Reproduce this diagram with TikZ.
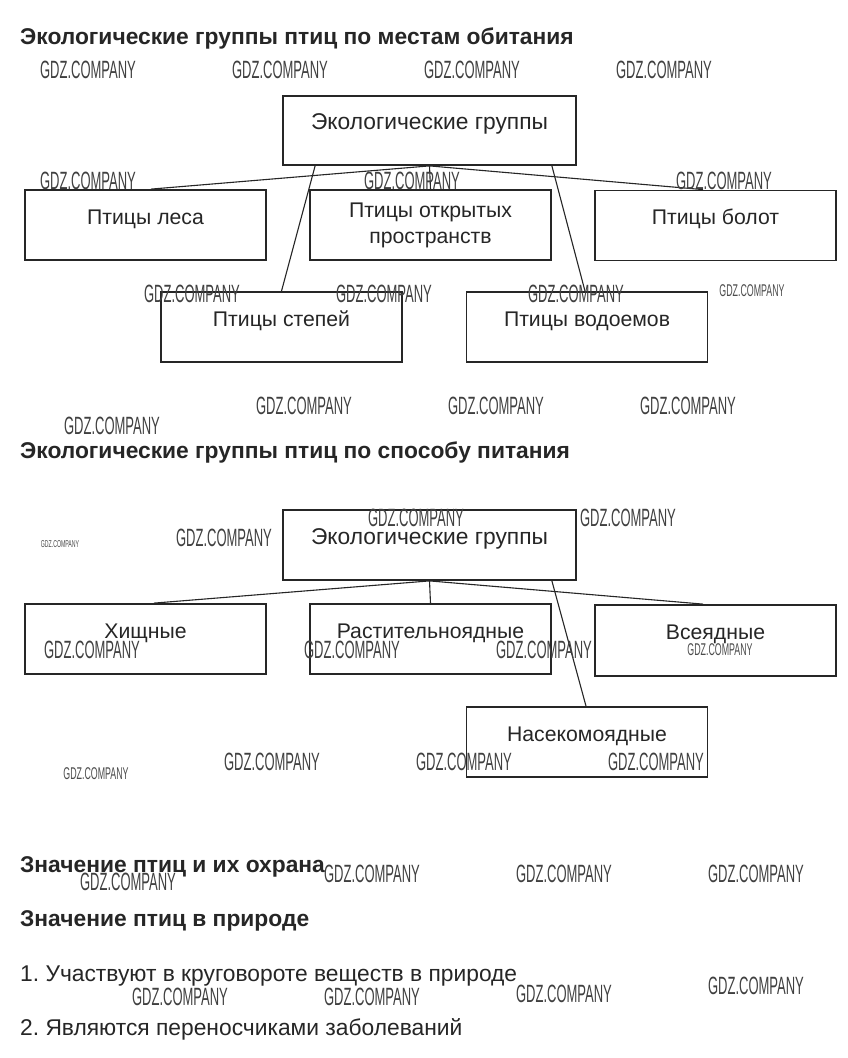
\documentclass[tikz,border=0pt]{standalone}
\usepackage{fontspec}
\setmainfont{Liberation Sans}
\frenchspacing
\newcommand\wmtext{\scalebox{0.52}[1]{GDZ.COMPANY}}
\tikzset{
  heading/.style={anchor=base west, inner sep=0, font=\bfseries\fontsize{22.8}{26}\selectfont, text=black!85},
  bodytext/.style={anchor=base west, inner sep=0, font=\fontsize{22.8}{26}\selectfont, text=black!85},
  box/.style={draw=black!85, line width=1.8pt, minimum width=241pt, minimum height=70pt, inner sep=0,
    font=\fontsize{21.2}{26}\selectfont, text=black!85, text height=16pt, text depth=18pt},
  topbox/.style={box, minimum width=293pt, minimum height=69pt, font=\fontsize{22.8}{26}\selectfont,
    text height=17pt, text depth=19pt},
  twoline/.style={box, align=center, text height=, text depth=},
  link/.style={draw=black!85, line width=1.1pt},
  wm/.style={inner sep=0, font=\fontsize{25}{25}\selectfont, text=black!75},
  wmsmall/.style={inner sep=0, font=\fontsize{17}{17}\selectfont, text=black!70},
  wmtiny/.style={inner sep=0, font=\fontsize{10}{10}\selectfont, text=black!70},
}
\begin{document}
\begin{tikzpicture}[x=1pt, y=-1pt]
\useasboundingbox[fill=white] (0,0) rectangle (848,1058);

% ---------- Section 1 ----------
\node[heading] (h1) at (20,44) {Экологические группы птиц по местам обитания};
\node[topbox] (t1) at (429.5,130.5) {Экологические группы};
\node[box] (les) at (145.5,225) {Птицы леса};
\node[twoline] (otk) at (430.5,225) {Птицы открытых\\пространств};
\node[box] (bol) at (715.5,225.5) {Птицы болот};
\node[box] (step) at (281.5,327) {Птицы степей};
\node[box] (vod) at (587,327) {Птицы водоемов};

\draw[link] (t1.south) -- ([xshift=5.5pt]les.north);
\draw[link] (t1.south) -- (otk.north);
\draw[link] (t1.south) -- ([xshift=-12.5pt]bol.north);
\draw[link] ([xshift=33pt]t1.south west) -- (step.north);
\draw[link] ([xshift=-25pt]t1.south east) -- ([xshift=-2pt]vod.north);

% ---------- Section 2 ----------
\node[heading] (h2) at (20,458) {Экологические группы птиц по способу питания};
\node[topbox, minimum height=70pt] (t2) at (429.5,545) {Экологические группы};
\node[box] (hish) at (145.5,639) {Хищные};
\node[box] (rast) at (430.5,639) {Растительноядные};
\node[box, minimum height=71pt] (vse) at (715.5,640.5) {Всеядные};
\node[box] (nas) at (587,742) {Насекомоядные};

\draw[link] (t2.south) -- ([xshift=8.5pt]hish.north);
\draw[link] (t2.south) -- (rast.north);
\draw[link] (t2.south) -- ([xshift=-12.5pt]vse.north);
\draw[link] ([xshift=-25pt]t2.south east) -- ([xshift=-1pt]nas.north);

% ---------- Section 3 ----------
\node[heading] (h3) at (20,872) {Значение птиц и их охрана};
\node[heading] (h4) at (20,926) {Значение птиц в природе};
\node[bodytext] (p1) at (20,981) {1. Участвуют в круговороте веществ в природе};
\node[bodytext] (p2) at (20,1035) {2. Являются переносчиками заболеваний};

% ---------- Watermarks ----------
\foreach \x/\y [count=\i] in {88/70, 280/70, 472/70, 664/70,
  88/181, 412/181, 724/181,
  192/294, 384/294, 576/294,
  304/406, 496/406, 688/406, 112/426,
  416/518, 628/518, 224/538,
  92/650, 352/650, 544/650,
  272/762, 464/762, 656/762,
  372/874, 564/874, 756/874, 128/882,
  756/986, 564/994, 180/997, 372/997}
  \node[wm] (wm\i) at (\x,\y) {\wmtext};
\node[wmsmall] (wms1) at (752,291) {\wmtext};
\node[wmsmall] (wms2) at (720,650) {\wmtext};
\node[wmsmall] (wms3) at (96,774) {\wmtext};
\node[wmtiny] (wmt1) at (60,544) {\wmtext};
\end{tikzpicture}
\end{document}
